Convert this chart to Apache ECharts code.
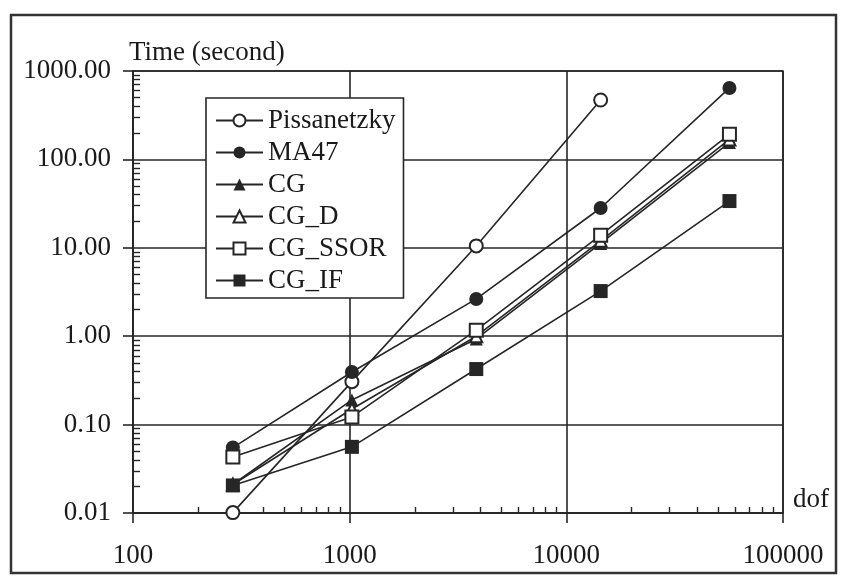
<!DOCTYPE html>
<html>
<head>
<meta charset="utf-8">
<script src="https://cdn.jsdelivr.net/npm/echarts@6/dist/echarts.min.js"></script>
<style>
  html, body { margin: 0; padding: 0; background: #fff; }
  #container { width: 841px; height: 577px; }
</style>
</head>
<body>
<div id="container"></div>
<script>
// data (log-log)
var dof = [289, 1024, 3840, 14400, 56600];
var pissanetzky = [0.0101, 0.306, 10.5, 470];
var ma47 = [0.055, 0.394, 2.64, 28.2, 643];
var cg = [0.021, 0.19, 0.93, 11.2, 155];
var cgD = [0.021, 0.15, 1.0, 12.0, 168];
var cgSsor = [0.043, 0.122, 1.17, 13.9, 192];
var cgIf = [0.0205, 0.056, 0.425, 3.24, 33.8];
var yTicks = [0.01, 0.1, 1, 10, 100, 1000];
var xTicks = [100, 1000, 10000, 100000];

var ink = "#262626";
var font = "Liberation Serif";

// minor log ticks (2..9 per decade)
function minors(lo, hi) {
  var out = [];
  for (var d = lo; d < hi; d *= 10) {
    for (var m = 2; m <= 9; m++) out.push(+(m * d).toPrecision(6));
  }
  return out;
}

function mk(name, vals, symbol, size) {
  return {
    name: name,
    type: "line",
    data: vals.map(function (v, i) { return [dof[i], v]; }),
    symbol: symbol,
    symbolSize: size,
    color: ink,
    lineStyle: { color: ink, width: 1.6 },
    itemStyle: { color: ink, borderWidth: 2.2 },
    emphasis: { disabled: true },
    z: 3,
  };
}

var dom = document.getElementById("container");
var myChart = echarts.init(dom, null, { renderer: "canvas" });

var option = {
  animation: false,
  backgroundColor: "#fff",
  textStyle: { fontFamily: font },
  grid: {
    left: 133, right: 58, top: 71, bottom: 64,
    show: true, borderColor: ink, borderWidth: 1.6,
  },
  graphic: [{
    type: "rect",
    shape: { x: 11, y: 15, width: 825, height: 558 },
    style: { fill: null, stroke: "#333", lineWidth: 2.5 },
    silent: true,
  }],
  legend: {
    orient: "vertical",
    left: 206, top: 98,
    padding: [9, 8, 4, 9],
    itemWidth: 47, itemHeight: 15, itemGap: 5,
    backgroundColor: "#fff",
    borderColor: ink, borderWidth: 1.6,
    selectedMode: false,
    textStyle: { fontFamily: font, fontSize: 27, color: "#1a1a1a", lineHeight: 27 },
    data: ["Pissanetzky", "MA47", "CG", "CG_D", "CG_SSOR", "CG_IF"],
  },
  xAxis: [{
    type: "log", logBase: 10, min: 100, max: 100000,
    name: "dof", nameLocation: "end", nameGap: 10,
    nameTextStyle: { fontFamily: font, fontSize: 27, color: "#1a1a1a", verticalAlign: "bottom" },
    axisLine: { lineStyle: { color: ink, width: 1.6 } },
    axisTick: { show: true, length: 10, lineStyle: { color: ink, width: 1.6 }, customValues: xTicks },
    axisLabel: { fontSize: 27, color: "#1a1a1a", margin: 29, customValues: xTicks,
      formatter: function (v) { return String(Math.round(v)); } },
    splitLine: { show: true, lineStyle: { color: ink, width: 1.6 } },
  }, {
    type: "log", logBase: 10, min: 100, max: 100000, position: "bottom",
    axisLine: { show: false },
    axisTick: { show: true, inside: true, length: 6, lineStyle: { color: ink, width: 1.4 }, customValues: minors(100, 100000) },
    axisLabel: { show: false },
    splitLine: { show: false },
  }],
  yAxis: [{
    type: "log", logBase: 10, min: 0.01, max: 1000,
    name: "Time (second)", nameLocation: "end", nameGap: 5,
    nameTextStyle: { fontFamily: font, fontSize: 27, color: "#1a1a1a", align: "left", padding: [0, 0, 0, -4] },
    axisLine: { lineStyle: { color: ink, width: 1.6 } },
    axisTick: { show: true, length: 10, lineStyle: { color: ink, width: 1.6 }, customValues: yTicks },
    axisLabel: { fontSize: 27, color: "#1a1a1a", margin: 22, customValues: yTicks,
      formatter: function (v) { return v.toFixed(2); } },
    splitLine: { show: true, lineStyle: { color: ink, width: 1.6 } },
  }, {
    type: "log", logBase: 10, min: 0.01, max: 1000, position: "left", offset: 0,
    axisLine: { show: false },
    axisTick: { show: true, inside: true, length: 7, lineStyle: { color: ink, width: 1.4 }, customValues: minors(0.01, 1000) },
    axisLabel: { show: false },
    splitLine: { show: false },
  }],
  series: [
    mk("Pissanetzky", pissanetzky, "emptyCircle", 13),
    mk("MA47", ma47, "circle", 14),
    mk("CG", cg, "triangle", 13),
    mk("CG_D", cgD, "emptyTriangle", 12),
    mk("CG_SSOR", cgSsor, "emptyRect", 13),
    mk("CG_IF", cgIf, "rect", 14),
  ],
};

myChart.setOption(option);
window.addEventListener("resize", myChart.resize);
</script>
</body>
</html>
